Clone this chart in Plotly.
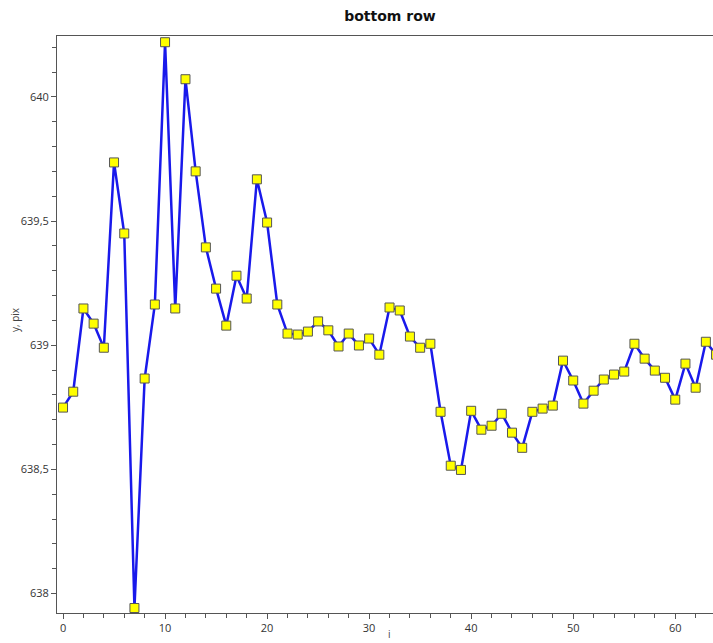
import plotly.graph_objects as go

idx = list(range(65))
y_pix = [
    638.749, 638.813, 639.148, 639.087, 638.990, 639.736, 639.450, 637.942, 638.866, 639.164,
    640.220, 639.148, 640.071, 639.700, 639.394, 639.228, 639.079, 639.280, 639.188, 639.668,
    639.494, 639.164, 639.047, 639.043, 639.055, 639.096, 639.060, 638.995, 639.047, 638.999,
    639.027, 638.962, 639.152, 639.140, 639.035, 638.990, 639.006, 638.732, 638.515, 638.498,
    638.736, 638.660, 638.676, 638.724, 638.648, 638.587, 638.732, 638.745, 638.757, 638.938,
    638.858, 638.765, 638.817, 638.862, 638.882, 638.894, 639.006, 638.946, 638.898, 638.869,
    638.781, 638.926, 638.829, 639.014, 638.962,
]

fig = go.Figure()
fig.add_trace(go.Scatter(
    x=idx, y=y_pix, mode="lines+markers",
    line=dict(color="rgb(25,25,235)", width=2.5),
    marker=dict(symbol="square", size=9, color="#ffff00",
                line=dict(color="#555555", width=1)),
    showlegend=False,
))

font_family = "Open Sans, Noto Sans, sans-serif"
fig.update_layout(
    width=713, height=643,
    margin=dict(l=57, r=0, t=36, b=30),
    paper_bgcolor="white", plot_bgcolor="white",
    separators=",\u00a0",
    font=dict(family=font_family, size=11, color="#333333"),
    title=dict(text="<b>bottom row</b>", x=0.5076, xref="paper", xanchor="center",
               y=1 - 16 / 643, yref="container", yanchor="middle",
               font=dict(family="DejaVu Sans, sans-serif", size=14, color="#111111")),
    xaxis=dict(range=[-0.59, 63.70], tickmode="linear", tick0=0, dtick=10,
               showgrid=False, zeroline=False, showline=True, linecolor="#555555",
               linewidth=1, mirror=True, ticks="outside", ticklen=5, tickcolor="#555555",
               minor=dict(dtick=2, ticks="outside", ticklen=4, tickcolor="#555555"),
               tickfont=dict(size=11, color="#333333")),
    yaxis=dict(range=[637.922, 640.245], tickmode="linear", tick0=638, dtick=0.5,
               showgrid=False, zeroline=False, showline=True, linecolor="#555555",
               linewidth=1, ticks="outside", ticklen=5, tickcolor="#555555",
               minor=dict(dtick=0.1, ticks="outside", ticklen=4, tickcolor="#555555"),
               tickfont=dict(size=11, color="#333333")),
    annotations=[
        dict(text="y, pix", xref="paper", yref="paper", x=-(57 - 15) / 656,
             y=(613 - 320) / 577, textangle=-90, showarrow=False,
             xanchor="center", yanchor="middle", font=dict(size=10, color="#444444")),
        dict(text="i", xref="paper", yref="paper", x=(390 - 57) / 656,
             y=-(643 - 613) / 577, showarrow=False, xanchor="center", yanchor="bottom",
             font=dict(size=10, color="#444444")),
    ],
)

fig.write_html("out.html")
